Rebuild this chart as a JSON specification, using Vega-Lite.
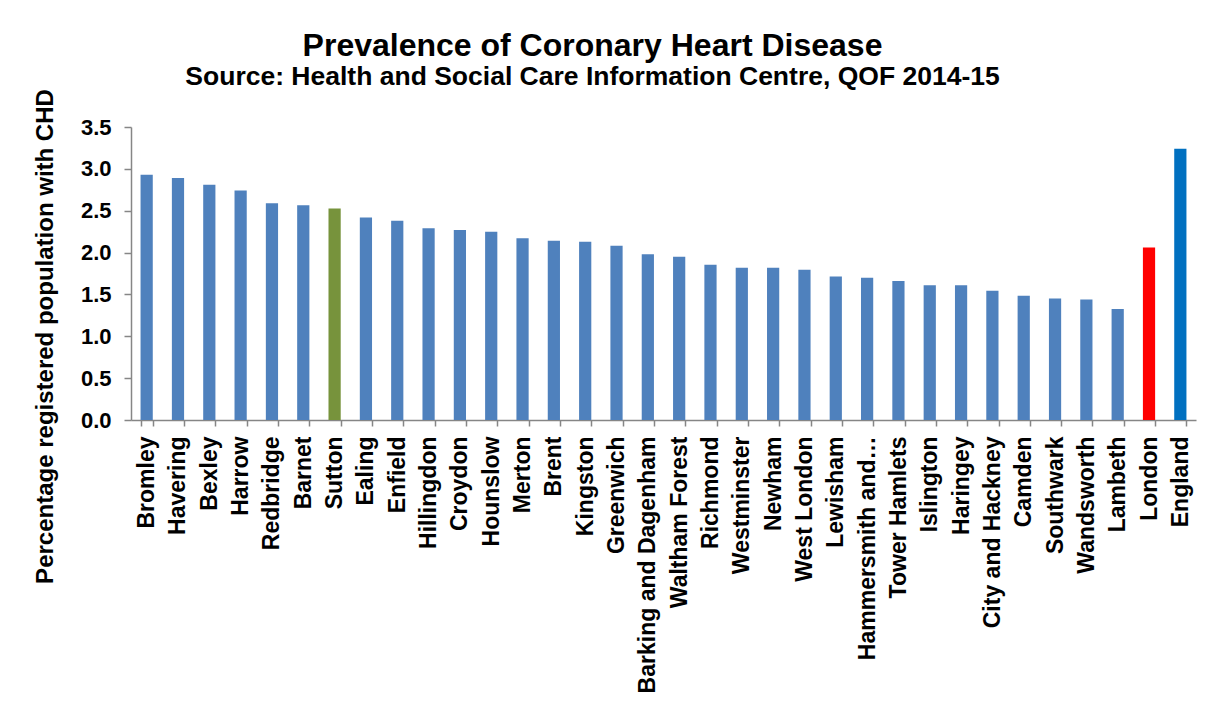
{
  "$schema": "https://vega.github.io/schema/vega-lite/v6.json",
  "autosize": "none",
  "width": 1065,
  "height": 293,
  "padding": {"left": 131, "top": 127, "right": 27, "bottom": 297},
  "background": "white",
  "config": {"view": {"stroke": null}, "font": "Liberation Sans"},
  "title": {
    "text": "Prevalence of Coronary Heart Disease",
    "subtitle": "Source: Health and Social Care Information Centre, QOF 2014-15",
    "anchor": "middle",
    "frame": "group",
    "dx": -71,
    "offset": -3,
    "font": "Liberation Sans",
    "fontSize": 32,
    "fontWeight": "bold",
    "color": "#000000",
    "subtitleFont": "Liberation Sans",
    "subtitleFontSize": 26.5,
    "subtitleFontWeight": "bold",
    "subtitleColor": "#000000",
    "subtitlePadding": 1
  },
  "data": {
    "values": [
      {"area": "Bromley", "value": 2.93, "group": "borough"},
      {"area": "Havering", "value": 2.89, "group": "borough"},
      {"area": "Bexley", "value": 2.81, "group": "borough"},
      {"area": "Harrow", "value": 2.74, "group": "borough"},
      {"area": "Redbridge", "value": 2.59, "group": "borough"},
      {"area": "Barnet", "value": 2.565, "group": "borough"},
      {"area": "Sutton", "value": 2.525, "group": "Sutton"},
      {"area": "Ealing", "value": 2.42, "group": "borough"},
      {"area": "Enfield", "value": 2.38, "group": "borough"},
      {"area": "Hillingdon", "value": 2.29, "group": "borough"},
      {"area": "Croydon", "value": 2.27, "group": "borough"},
      {"area": "Hounslow", "value": 2.25, "group": "borough"},
      {"area": "Merton", "value": 2.17, "group": "borough"},
      {"area": "Brent", "value": 2.14, "group": "borough"},
      {"area": "Kingston", "value": 2.13, "group": "borough"},
      {"area": "Greenwich", "value": 2.08, "group": "borough"},
      {"area": "Barking and Dagenham", "value": 1.98, "group": "borough"},
      {"area": "Waltham Forest", "value": 1.95, "group": "borough"},
      {"area": "Richmond", "value": 1.855, "group": "borough"},
      {"area": "Westminster", "value": 1.82, "group": "borough"},
      {"area": "Newham", "value": 1.82, "group": "borough"},
      {"area": "West London", "value": 1.795, "group": "borough"},
      {"area": "Lewisham", "value": 1.715, "group": "borough"},
      {"area": "Hammersmith and…", "value": 1.70, "group": "borough"},
      {"area": "Tower Hamlets", "value": 1.66, "group": "borough"},
      {"area": "Islington", "value": 1.61, "group": "borough"},
      {"area": "Haringey", "value": 1.61, "group": "borough"},
      {"area": "City and Hackney", "value": 1.545, "group": "borough"},
      {"area": "Camden", "value": 1.485, "group": "borough"},
      {"area": "Southwark", "value": 1.45, "group": "borough"},
      {"area": "Wandsworth", "value": 1.44, "group": "borough"},
      {"area": "Lambeth", "value": 1.325, "group": "borough"},
      {"area": "London", "value": 2.06, "group": "London"},
      {"area": "England", "value": 3.24, "group": "England"}
    ]
  },
  "mark": {"type": "bar"},
  "encoding": {
    "x": {
      "field": "area",
      "type": "nominal",
      "sort": null,
      "scale": {"paddingInner": 0.61, "paddingOuter": 0.305},
      "axis": {
        "title": null,
        "labelAngle": -90,
        "labelAlign": "right",
        "labelBaseline": "middle",
        "labelFont": "Liberation Sans",
        "labelFontSize": 23,
        "labelFontWeight": "bold",
        "labelColor": "#000000",
        "labelPadding": 10,
        "labelLimit": 400,
        "tickBand": "extent",
        "tickSize": 6,
        "tickColor": "#868686",
        "domainColor": "#868686",
        "domainWidth": 1.5,
        "tickWidth": 1.5
      }
    },
    "y": {
      "field": "value",
      "type": "quantitative",
      "scale": {"domain": [0, 3.5], "nice": false},
      "axis": {
        "title": "Percentage registered population with CHD",
        "titleFont": "Liberation Sans",
        "titleFontSize": 24,
        "titleFontWeight": "bold",
        "titleColor": "#000000",
        "titleAngle": -90,
        "titleAlign": "center",
        "titleBaseline": "middle",
        "titleX": -86,
        "titleY": 209,
        "values": [0, 0.5, 1, 1.5, 2, 2.5, 3, 3.5],
        "format": ".1f",
        "grid": false,
        "labelFont": "Liberation Sans",
        "labelFontSize": 22,
        "labelFontWeight": "bold",
        "labelColor": "#000000",
        "labelPadding": 13,
        "tickSize": 7,
        "tickColor": "#868686",
        "domainColor": "#868686",
        "domainWidth": 1.5,
        "tickWidth": 1.5
      }
    },
    "color": {
      "field": "group",
      "type": "nominal",
      "scale": {
        "domain": ["borough", "Sutton", "London", "England"],
        "range": ["#4F81BD", "#77933C", "#FF0000", "#0070C0"]
      },
      "legend": null
    }
  }
}
